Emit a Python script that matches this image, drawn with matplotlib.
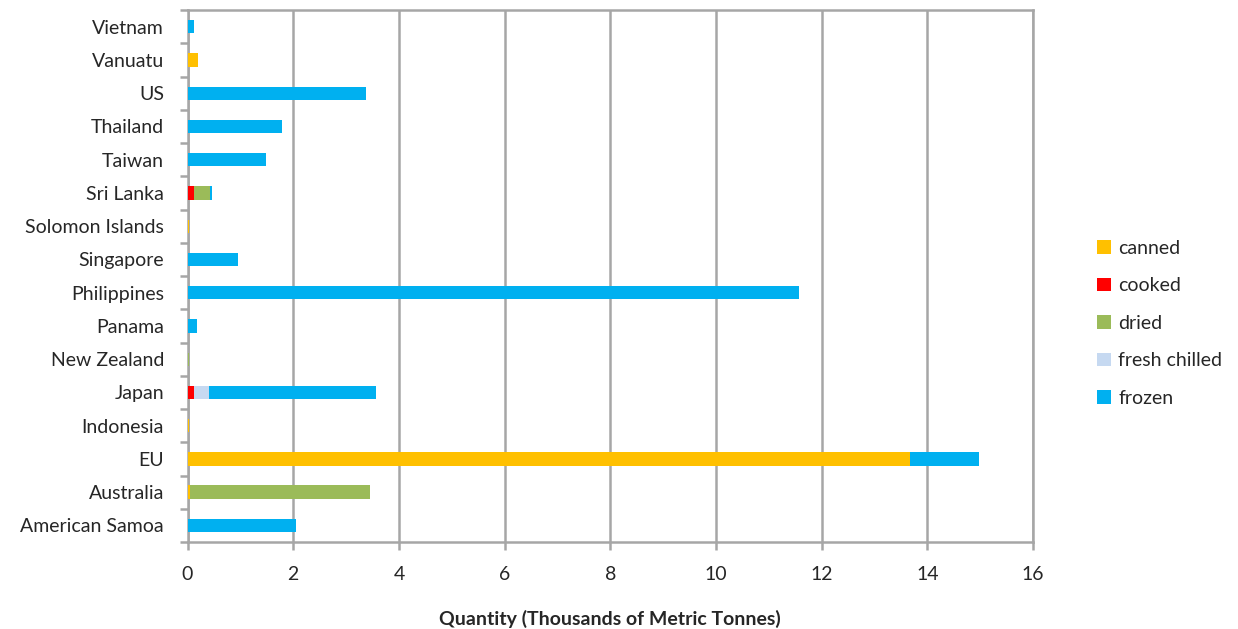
import numpy as np
import matplotlib
matplotlib.use("Agg")
import matplotlib.pyplot as plt
from matplotlib.patches import Patch

plt.rcParams['font.family'] = ['Lato', 'DejaVu Sans']

countries = ["American Samoa", "Australia", "EU", "Indonesia", "Japan", "New Zealand",
             "Panama", "Philippines", "Singapore", "Solomon Islands", "Sri Lanka",
             "Taiwan", "Thailand", "US", "Vanuatu", "Vietnam"]

canned        = [0.00, 0.04, 13.67, 0.03, 0.00, 0.00, 0.00, 0.00, 0.00, 0.03, 0.00, 0.00, 0.00, 0.00, 0.20, 0.00]
cooked        = [0.00, 0.00, 0.00, 0.00, 0.13, 0.00, 0.00, 0.00, 0.00, 0.00, 0.13, 0.00, 0.00, 0.00, 0.00, 0.00]
dried         = [0.00, 3.42, 0.00, 0.00, 0.00, 0.03, 0.00, 0.00, 0.00, 0.00, 0.30, 0.00, 0.00, 0.00, 0.00, 0.00]
fresh_chilled = [0.00, 0.00, 0.00, 0.00, 0.27, 0.00, 0.00, 0.00, 0.00, 0.00, 0.00, 0.00, 0.00, 0.00, 0.00, 0.00]
frozen        = [2.06, 0.00, 1.30, 0.00, 3.17, 0.00, 0.18, 11.57, 0.95, 0.00, 0.03, 1.49, 1.79, 3.38, 0.00, 0.12]

series = [("canned", canned, "#FFC000"),
          ("cooked", cooked, "#FF0000"),
          ("dried", dried, "#9BBB59"),
          ("fresh chilled", fresh_chilled, "#C6D9F1"),
          ("frozen", frozen, "#00B0F0")]

x_ticks = [0, 2, 4, 6, 8, 10, 12, 14, 16]
x_label = "Quantity (Thousands of Metric Tonnes)"

grid_col = "#A6A6A6"
text_col = "#262626"
fs = 14

fig = plt.figure(figsize=(12.38, 6.29), dpi=100)
ax = fig.add_axes([0.1515, 0.1383, 0.6829, 0.8457])

y = np.arange(len(countries))
left = np.zeros(len(countries))
for name, vals, col in series:
    v = np.array(vals)
    ax.barh(y, v, left=left, height=0.4, color=col, label=name, zorder=3)
    left += v

ax.set_xlim(0, 16)
ax.set_ylim(-0.5, len(countries) - 0.5)
ax.set_xticks(x_ticks)
ax.set_xticklabels([str(t) for t in x_ticks], fontsize=fs, color=text_col)
ax.tick_params(axis='x', length=6, width=1.8, color=grid_col, pad=11, direction='out')

ax.set_yticks(y)
ax.set_yticklabels(countries, fontsize=fs, color=text_col)
ax.tick_params(axis='y', which='major', length=0, pad=17)
ax.set_yticks(np.arange(-0.5, len(countries)), minor=True)
ax.tick_params(axis='y', which='minor', length=6, width=1.8, color=grid_col, direction='out')

ax.grid(axis='x', color=grid_col, linewidth=1.8, zorder=0)
for s in ax.spines.values():
    s.set_color(grid_col)
    s.set_linewidth(1.8)

ax.set_xlabel(x_label, fontsize=fs, fontweight='bold', color=text_col, labelpad=20)

handles = [Patch(facecolor=c, label=n) for n, _, c in series]
fig.legend(handles=handles, loc='center left', bbox_to_anchor=(0.872, 0.486),
           frameon=False, fontsize=fs, handlelength=0.7, handleheight=0.7,
           handletextpad=0.4, labelspacing=1.05, labelcolor=text_col)

fig.savefig("out.png", dpi=100)
